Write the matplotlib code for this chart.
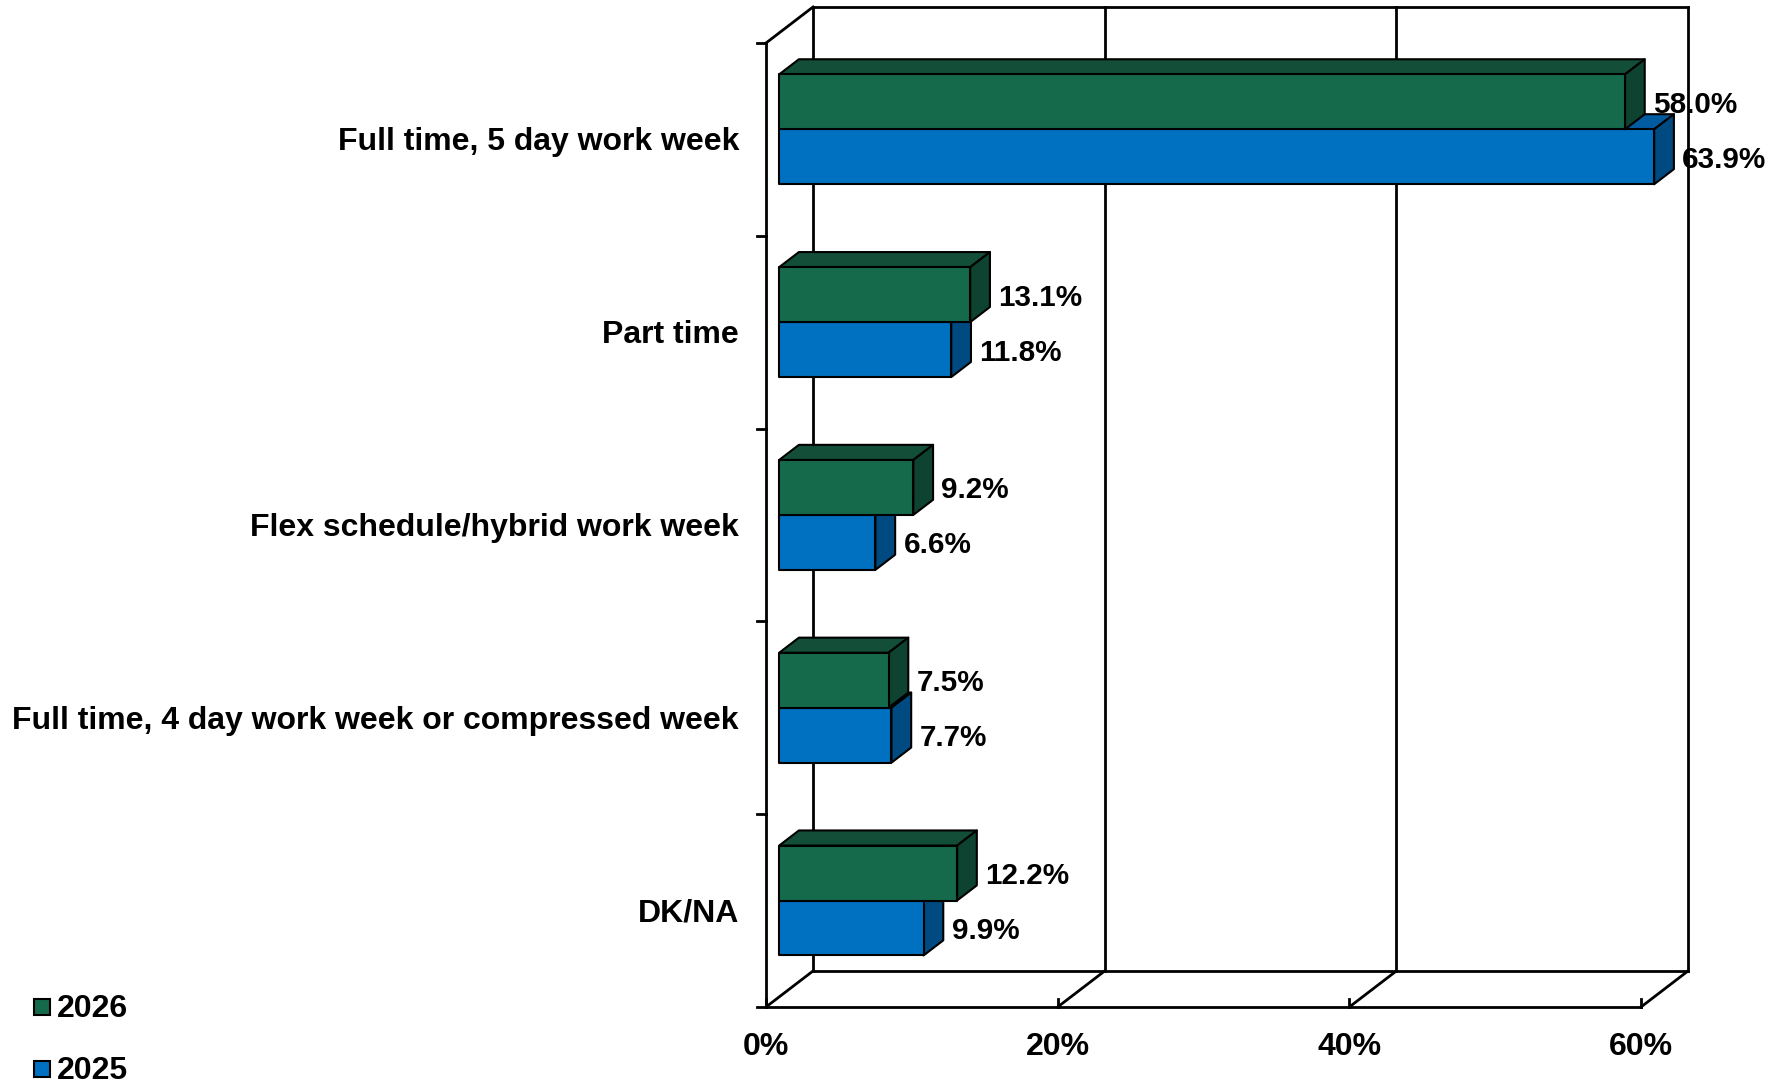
import matplotlib
matplotlib.use("Agg")
import matplotlib.pyplot as plt
from matplotlib.patches import Polygon, Rectangle
import numpy as np

# ---- data ----
categories = ["Full time, 5 day work week", "Part time", "Flex schedule/hybrid work week",
              "Full time, 4 day work week or compressed week", "DK/NA"]
values_2026 = [58.0, 13.1, 9.2, 7.5, 12.2]
values_2025 = [63.9, 11.8, 6.6, 7.7, 9.9]
series_names = ["2026", "2025"]
x_ticks = [0, 20, 40, 60]
x_tick_labels = ["0%", "20%", "40%", "60%"]

# ---- style ----
FONT = "Liberation Sans"
plt.rcParams["font.family"] = [FONT, "DejaVu Sans"]
plt.rcParams["font.weight"] = "bold"

green = {"front": "#166A4C", "top": "#124E38", "side": "#0D4330"}
blue = {"front": "#0070C0", "top": "#005BA0", "side": "#004A82"}

W, H, DPI = 1787, 1085, 100
fig = plt.figure(figsize=(W / DPI, H / DPI), dpi=DPI)
ax = fig.add_axes([766 / W, 1 - 1007 / H, 875 / W, 964 / H])
XMAX = 60
ax.set_xlim(0, XMAX)
ax.set_ylim(len(categories), 0)
ax.axis("off")

# depth vector (pixels) -> data units
DXp, DYp = 47, 36
inv = ax.transData.inverted()
p0 = inv.transform((0, 0))
p1 = inv.transform((DXp, DYp))
DX, DY = p1[0] - p0[0], p1[1] - p0[1]


def dp(x, y, f):
    return (x + f * DX, y + f * DY)


LW_WALL = 2.0
LW_EDGE = 1.5
n = len(categories)
ymax = n

# back wall gridlines
for t in x_ticks:
    xs, ys = zip(dp(t, 0, 1), dp(t, ymax, 1))
    ax.plot(xs, ys, color="black", lw=LW_WALL, zorder=1, clip_on=False, solid_capstyle="projecting")
# back wall top & bottom edges
for yy in (0, ymax):
    xs, ys = zip(dp(0, yy, 1), dp(XMAX, yy, 1))
    ax.plot(xs, ys, color="black", lw=LW_WALL, zorder=1, clip_on=False)
# floor front edge and diagonals
ax.plot([0, XMAX], [ymax, ymax], color="black", lw=LW_WALL, zorder=1, clip_on=False)
for t in x_ticks:
    xs, ys = zip(dp(t, ymax, 0), dp(t, ymax, 1))
    ax.plot(xs, ys, color="black", lw=LW_WALL, zorder=1, clip_on=False)
# left front axis + top diagonal
ax.plot([0, 0], [0, ymax], color="black", lw=LW_WALL, zorder=1, clip_on=False)
xs, ys = zip(dp(0, 0, 0), dp(0, 0, 1))
ax.plot(xs, ys, color="black", lw=LW_WALL, zorder=1, clip_on=False)

# ticks
tick_dx = inv.transform((9, 0))[0] - p0[0]
tick_dy = inv.transform((0, 8))[1] - p0[1]
for i in range(n + 1):
    ax.plot([0, -tick_dx], [i, i], color="black", lw=LW_WALL, zorder=1, clip_on=False)
for t in x_ticks:
    ax.plot([t, t], [ymax, ymax + tick_dy], color="black", lw=LW_WALL, zorder=1, clip_on=False)

# tick labels
for t, lab in zip(x_ticks, x_tick_labels):
    ax.annotate(lab, (t, ymax), xytext=(0, -40), textcoords="offset pixels",
                ha="center", va="center", fontsize=23, fontweight="bold",
                annotation_clip=False)

# category labels
for i, c in enumerate(categories):
    ax.annotate(c, (0, i + 0.5), xytext=(-27, -3), textcoords="offset pixels",
                ha="right", va="center", fontsize=23, fontweight="bold",
                annotation_clip=False)

# bars
F0, F1 = 0.28, 0.70
BH = 0.285


def box(v, y0, y1, col, z):
    vc = min(v, XMAX)
    front = [dp(0, y0, F0), dp(vc, y0, F0), dp(vc, y1, F0), dp(0, y1, F0)]
    top = [dp(0, y0, F0), dp(vc, y0, F0), dp(vc, y0, F1), dp(0, y0, F1)]
    side = [dp(vc, y0, F0), dp(vc, y1, F0), dp(vc, y1, F1), dp(vc, y0, F1)]
    for pts, key in ((top, "top"), (side, "side"), (front, "front")):
        ax.add_patch(Polygon(pts, closed=True, facecolor=col[key], edgecolor="black",
                             lw=LW_EDGE, joinstyle="round", zorder=z, clip_on=False))
    lx, ly = dp(vc, (y0 + y1) / 2, F0)
    ax.annotate(f"{v:.1f}%", (lx, ly), xytext=(28, -3), textcoords="offset pixels",
                ha="left", va="center", fontsize=21.3, fontweight="bold", zorder=10,
                annotation_clip=False)


for i in range(n):
    c = i + 0.5
    box(values_2025[i], c, c + BH, blue, 2)
    box(values_2026[i], c - BH, c, green, 3)

# legend
for (name, col, yc) in ((series_names[0], green, 1007), (series_names[1], blue, 1069)):
    fig.patches.append(Rectangle((34 / W, 1 - (yc + 8) / H), 16 / W, 16 / H,
                                 transform=fig.transFigure, facecolor=col["front"],
                                 edgecolor="black", lw=1.5))
    fig.text(57 / W, 1 - (yc + 2) / H, name, ha="left", va="center", fontsize=23,
             fontweight="bold")

fig.savefig("out.png", dpi=DPI)
